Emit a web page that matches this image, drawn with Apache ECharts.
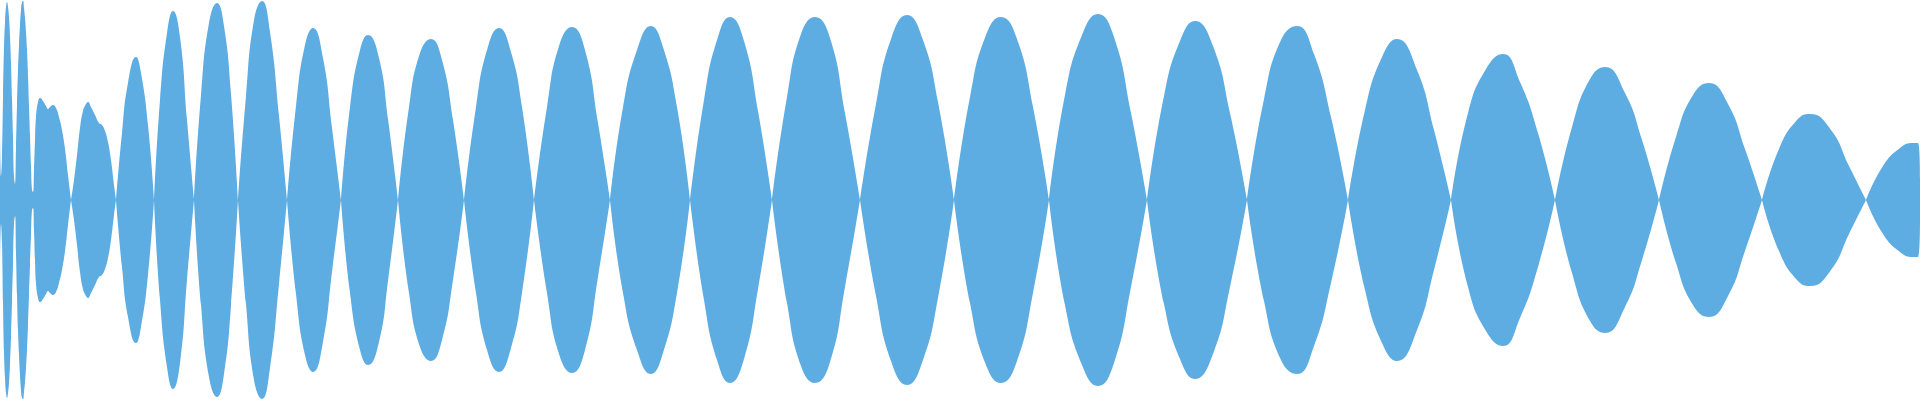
<!DOCTYPE html>
<html>
<head>
<meta charset="utf-8">
<script src="https://cdn.jsdelivr.net/npm/echarts@6/dist/echarts.min.js"></script>
<style>
html,body{margin:0;padding:0;background:#fff;}
#chart{width:1920px;height:400px;}
</style>
</head>
<body>
<div id="chart"></div>
<script>
// Envelope of the waveform (mirrored about zero).
// null marks a node where one lobe ends and the next begins.
const sampleX = [
  0,1,2,3,4,5,6,7,8,9,10,11,12,13,14,15,16,17,18,19,20,21,22,23,24,25,26,27,28,29,30,31,32,
  33,34,35,36,38,40,43,46,48,50,53,56,59,62,65,68,71, 71,
  71,74,77,80,83,86,88,91,95,99,102,105,108,111,114,116, 116,
  116,122,128,136,141,148,154, 154,
  154,160,167,173,180,187,194, 194,
  194,201,209,217,224,231,238, 238,
  238,246,254,262,270,279,287, 287,
  287,296,305,313,323,332,341, 341,
  341,350,360,368,379,388,398, 398,
  398,409,420,431,442,453,464, 464,
  464,476,487,499,511,522,534, 534,
  534,547,559,572,585,598,610, 610,
  610,623,637,651,663,677,690, 690,
  690,704,717,730,744,758,772, 772,
  772,787,801,815,830,845,860, 860,
  860,876,891,907,923,938,954, 954,
  954,970,986,1001,1017,1033,1049, 1049,
  1049,1065,1082,1098,1114,1131,1147, 1147,
  1147,1164,1180,1195,1213,1230,1247, 1247,
  1247,1264,1281,1297,1314,1331,1348, 1348,
  1348,1365,1382,1397,1417,1434,1451, 1451,
  1451,1468,1486,1503,1520,1538,1555, 1555,
  1555,1572,1590,1605,1625,1642,1659, 1659,
  1659,1676,1693,1709,1728,1745,1762, 1762,
  1762,1779,1797,1810,1831,1849,1866, 1866,
  1866,1883,1900,1913,1918,1920
];
const amplitude = [
  77,24,44,103,152,178,193,198,193,183,164,137,102,64,24,16,53,95,130,155,175,190,198,199,192,182,168,150,125,95,65,35,10,
  8,30,60,83,98,102,99,94,91,93,95,92,83,70,51,25,0, null,
  0,20,45,72,89,96,98,93,85,77,75,69,58,40,15,0, null,
  0,67,117,143,127,75,0, null,
  0,100,167,189,163,80,0, null,
  0,105,177,197,174,106,0, null,
  0,104,180,199,168,84,0, null,
  0,94,155,172,142,72,0, null,
  0,93,150,165,142,81,0, null,
  0,93,147,161,140,80,0, null,
  0,93,150,172,148,93,0, null,
  0,93,154,173,150,77,0, null,
  0,93,150,174,153,93,0, null,
  0,100,160,183,159,89,0, null,
  0,103,166,183,162,87,0, null,
  0,96,161,185,160,98,0, null,
  0,103,165,183,161,93,0, null,
  0,105,165,186,163,87,0, null,
  0,104,159,179,154,87,0, null,
  0,101,160,174,146,83,0, null,
  0,90,143,161,130,70,0, null,
  0,87,131,146,118,67,0, null,
  0,73,121,133,107,60,0, null,
  0,63,105,117,96,51,0, null,
  0,51,80,86,70,34,0, null,
  0,34,52,57,57,22
];

const upper = sampleX.map((x, i) => [x, amplitude[i] === null ? '-' : amplitude[i]]);
const lower = sampleX.map((x, i) => [x, amplitude[i] === null ? '-' : -amplitude[i]]);

const color = '#5dace2';
const chart = echarts.init(document.getElementById('chart'), null, {renderer: 'canvas'});
chart.setOption({
  animation: false,
  grid: {left: 0, right: 0, top: 0, bottom: 0},
  xAxis: {type: 'value', min: 0, max: 1920, show: false},
  yAxis: {type: 'value', min: -200, max: 200, show: false},
  series: [
    {
      type: 'line', data: upper, showSymbol: false, smooth: 0.5, connectNulls: false,
      lineStyle: {width: 0, opacity: 0},
      areaStyle: {color: color, opacity: 1}
    },
    {
      type: 'line', data: lower, showSymbol: false, smooth: 0.5, connectNulls: false,
      lineStyle: {width: 0, opacity: 0},
      areaStyle: {color: color, opacity: 1}
    }
  ]
});
</script>
</body>
</html>
